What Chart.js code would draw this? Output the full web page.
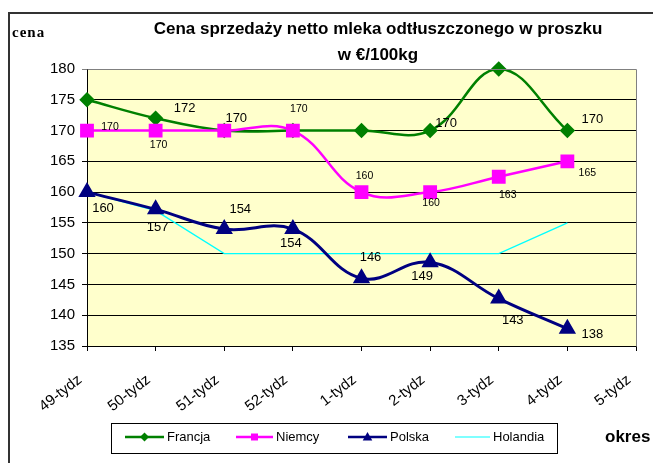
<!DOCTYPE html>
<html><head><meta charset="utf-8">
<script src="https://cdn.jsdelivr.net/npm/chart.js@4.4.1/dist/chart.umd.min.js"></script>
<style>html,body{margin:0;padding:0;background:#fff;overflow:hidden}canvas{display:block}</style>
</head><body>
<canvas id="c" width="653" height="463"></canvas>
<script>
// ---- data ----
const categories = ['49-tydz','50-tydz','51-tydz','52-tydz','1-tydz','2-tydz','3-tydz','4-tydz','5-tydz'];
const francja  = [175, 172, 170, 170, 170, 170, 180, 170];
const niemcy   = [170, 170, 170, 170, 160, 160, 162.5, 165];
const polska   = [160, 157.2, 154, 154, 146, 148.6, 142.7, 137.8];
const holandia = [160, 157, 150, 150, 150, 150, 150, 155];
const seriesNames = ['Francja', 'Niemcy', 'Polska', 'Holandia'];
const yMin = 135, yMax = 180, yStep = 5;
const titleLines = ['Cena sprzedaży netto mleka odtłuszczonego w proszku', 'w €/100kg'];
const yAxisTitle = 'cena';
const xAxisTitle = 'okres';

// ---- label placement (style only) ----
const labelStyle = {
  0: {font: '13px "Liberation Sans", Arial', pts: {1:[29,-10], 2:[12,-12], 5:[16,-7], 7:[25,-11]}},
  1: {font: '10.5px "Liberation Sans", Arial', pts: {0:[23,-3], 1:[3,15], 3:[6,-21], 4:[3,-16], 5:[1,11], 6:[9,18], 7:[20,12]}},
  2: {font: '13px "Liberation Sans", Arial', pts: {0:[16,16], 1:[2,18], 2:[16,-20], 3:[-2,14], 4:[9,-21], 5:[-8,14], 6:[14,22], 7:[25,6]}}
};

const colors = ['#008000', '#FF00FF', '#000080', '#00FFFF'];

function drawMarker(ctx, shape, x, y, r, color) {
  ctx.save();
  ctx.fillStyle = color;
  ctx.beginPath();
  if (shape === 'rectRot') {
    ctx.moveTo(x, y - r); ctx.lineTo(x + r, y); ctx.lineTo(x, y + r); ctx.lineTo(x - r, y);
  } else if (shape === 'rect') {
    ctx.rect(x - r, y - r, 2 * r, 2 * r);
  } else if (shape === 'triangle') {
    ctx.moveTo(x, y - r); ctx.lineTo(x + r * 0.95, y + r * 0.7); ctx.lineTo(x - r * 0.95, y + r * 0.7);
  }
  ctx.closePath();
  ctx.fill();
  ctx.restore();
}

const decor = {
  id: 'decor',
  beforeDraw(chart) {
    const {ctx, chartArea: a} = chart;
    ctx.save();
    ctx.fillStyle = '#fff';
    ctx.fillRect(0, 0, chart.width, chart.height);
    ctx.fillStyle = '#FFFFCC';
    ctx.fillRect(a.left, a.top, a.right - a.left, a.bottom - a.top);
    ctx.restore();
  },
  afterDraw(chart) {
    const {ctx, chartArea: a} = chart;
    ctx.save();
    // plot border (top/right)
    ctx.strokeStyle = '#808080';
    ctx.lineWidth = 1;
    ctx.beginPath();
    ctx.moveTo(Math.round(a.left) + 0.5, Math.round(a.top) + 0.5);
    ctx.lineTo(Math.round(a.right) + 0.5, Math.round(a.top) + 0.5);
    ctx.lineTo(Math.round(a.right) + 0.5, Math.round(a.bottom) + 0.5);
    ctx.stroke();

    // data labels
    ctx.fillStyle = '#000';
    ctx.textAlign = 'center';
    ctx.textBaseline = 'middle';
    Object.keys(labelStyle).forEach(di => {
      const st = labelStyle[di];
      const meta = chart.getDatasetMeta(+di);
      const data = chart.data.datasets[+di].data;
      ctx.font = st.font;
      Object.keys(st.pts).forEach(i => {
        const el = meta.data[+i];
        const [dx, dy] = st.pts[i];
        ctx.fillText(String(Math.round(data[+i])), el.x + dx, el.y + dy);
      });
    });

    // title
    ctx.font = 'bold 17px "Liberation Sans", Arial';
    ctx.fillText(titleLines[0], 378, 29);
    ctx.fillText(titleLines[1], 378, 55);

    // axis titles
    ctx.textAlign = 'left';
    ctx.font = 'bold 15px "Liberation Serif", "Times New Roman", serif';
    try { ctx.letterSpacing = '1px'; } catch (e) {}
    ctx.fillText(yAxisTitle, 12, 33);
    try { ctx.letterSpacing = '0px'; } catch (e) {}
    ctx.font = 'bold 17px "Liberation Sans", Arial';
    ctx.fillText(xAxisTitle, 605, 437);

    // legend
    ctx.fillStyle = '#fff';
    ctx.fillRect(111.5, 423.5, 446, 30);
    ctx.strokeStyle = '#000';
    ctx.lineWidth = 1;
    ctx.strokeRect(111.5, 423.5, 446, 30);
    const items = [
      {x0: 125, x1: 164, tx: 167, shape: 'rectRot', r: 4.5, w: 2.5},
      {x0: 236, x1: 273, tx: 276, shape: 'rect', r: 3.5, w: 2.5},
      {x0: 348, x1: 387, tx: 390, shape: 'triangle', r: 5, w: 2.5},
      {x0: 455, x1: 490, tx: 493, shape: null, r: 0, w: 1.2}
    ];
    const ly = 437;
    ctx.font = '13px "Liberation Sans", Arial';
    items.forEach((it, k) => {
      ctx.strokeStyle = colors[k];
      ctx.lineWidth = it.w;
      ctx.beginPath();
      ctx.moveTo(it.x0, ly); ctx.lineTo(it.x1, ly);
      ctx.stroke();
      if (it.shape) drawMarker(ctx, it.shape, (it.x0 + it.x1) / 2, ly, it.r, colors[k]);
      ctx.fillStyle = '#000';
      ctx.fillText(seriesNames[k], it.tx, ly);
    });

    // outer frame
    ctx.strokeStyle = '#333';
    ctx.lineWidth = 2;
    ctx.beginPath();
    ctx.moveTo(9, 463); ctx.lineTo(9, 13); ctx.lineTo(653, 13);
    ctx.stroke();
    ctx.restore();
  }
};

new Chart(document.getElementById('c'), {
  type: 'line',
  data: {
    labels: categories,
    datasets: [
      {label: seriesNames[0], data: francja, borderColor: colors[0], backgroundColor: colors[0], borderWidth: 2.5,
       pointStyle: 'rectRot', pointRadius: 6, tension: 0.4, order: 3, clip: false},
      {label: seriesNames[1], data: niemcy, borderColor: colors[1], backgroundColor: colors[1], borderWidth: 2.5,
       pointStyle: 'rect', pointRadius: 8, tension: 0.4, order: 2, clip: false},
      {label: seriesNames[2], data: polska, borderColor: colors[2], backgroundColor: colors[2], borderWidth: 3,
       pointStyle: 'triangle', pointRadius: 7, tension: 0.4, order: 1, clip: false},
      {label: seriesNames[3], data: holandia, borderColor: colors[3], backgroundColor: colors[3], borderWidth: 1.3,
       pointRadius: 0, tension: 0, order: 4, clip: false}
    ]
  },
  options: {
    responsive: false,
    animation: false,
    devicePixelRatio: 1,
    layout: {padding: {left: 0, top: 69, right: 17, bottom: 0}},
    plugins: {legend: {display: false}, tooltip: {enabled: false}, title: {display: false}},
    elements: {point: {borderWidth: 0, hoverRadius: 0}},
    scales: {
      x: {
        offset: false,
        grid: {drawOnChartArea: false, drawTicks: true, tickLength: 5, color: '#000'},
        border: {color: '#000', width: 1},
        ticks: {color: '#000', font: {family: '"Liberation Sans", Arial', size: 15}, maxRotation: 38, minRotation: 38, padding: 20, labelOffset: -7, autoSkip: false},
        afterFit(s) { s.height = 117; s.paddingLeft = 0; s.paddingRight = 0; }
      },
      y: {
        min: yMin, max: yMax,
        grid: {color: c => (c.tick && c.tick.value === yMax) ? '#808080' : '#000', tickLength: 5, drawTicks: true},
        border: {color: '#000', width: 1},
        ticks: {stepSize: yStep, color: '#000', font: {family: '"Liberation Sans", Arial', size: 15}, padding: 7},
        afterFit(s) { s.width = 87; s.paddingTop = 0; s.paddingBottom = 0; }
      }
    }
  },
  plugins: [decor]
});
</script>
</body></html>
